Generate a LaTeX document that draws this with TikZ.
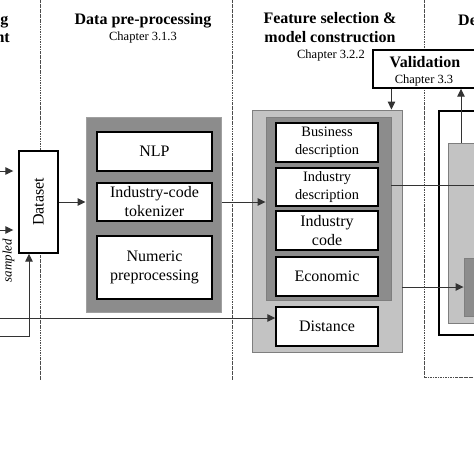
\documentclass[tikz,border=0pt]{standalone}
\usepackage{fontspec}
\setmainfont{Liberation Serif}
\usetikzlibrary{arrows.meta,calc}
\definecolor{lightg}{HTML}{C3C3C3}
\definecolor{darkg}{HTML}{8C8C8C}
\definecolor{edgeg}{HTML}{7E7E7E}
\definecolor{prepedge}{HTML}{A0A0A0}
\begin{document}
\begin{tikzpicture}[x=1pt,y=-1pt,
  divider/.style={draw=black!70, line width=0.6pt, dash pattern=on 2.5pt off 1pt on 0.6pt off 1pt},
  ln/.style={draw=black!80, line width=1pt},
  arr/.style={draw=black!80, line width=1pt, -{Triangle[length=8pt,width=7.5pt]}},
  wbox/.style={draw=black, line width=1.4pt, fill=white, inner sep=0pt, align=center, font=\fontsize{16}{19}\selectfont},
  sbox/.style={wbox, font=\fontsize{14.4}{18}\selectfont},
  head/.style={font=\fontsize{16}{19}\selectfont\bfseries, inner sep=0pt, anchor=base},
  chap/.style={font=\fontsize{12.5}{15}\selectfont, inner sep=0pt, anchor=base},
  lightbox/.style={fill=lightg, draw=edgeg, line width=0.9pt, inner sep=0pt},
  darkbox/.style={fill=darkg, draw=edgeg, line width=0.9pt, inner sep=0pt}
]
\useasboundingbox (0,0) rectangle (474,474);
\fill[white] (0,0) rectangle (474,474);
\clip (0,0) rectangle (474,474);

% dividers
\draw[divider] (40,0) -- (40,380);
\draw[divider] (232,0) -- (232,380);
\draw[divider] (424,0) -- (424,377) -- (480,377);

% headings
\node[head, anchor=base east] (hleft1) at (8.5,24) {g};
\node[head, anchor=base east] (hleft2) at (10,42.5) {nt};
\node[head] (hprep) at (143,24.5) {Data pre-processing};
\node[chap] (cprep) at (143,40) {Chapter 3.1.3};
\node[head] (hfeat1) at (330,23.5) {Feature selection \&};
\node[head] (hfeat2) at (330,42.5) {model construction};
\node[chap] (cfeat) at (331,58.5) {Chapter 3.2.2};
\node[head, anchor=base west] (hright) at (458,25) {De};

% validation
\node[draw=black, line width=1.4pt, fill=white, minimum width=103pt, minimum height=38pt, inner sep=0pt] (valid) at (424.5,69) {};
\node[head] (hvalid) at (425,67) {Validation};
\node[chap] (cvalid) at (424,83) {Chapter 3.3};

% dataset
\node[wbox, minimum width=39pt, minimum height=102pt] (dataset) at (38.5,202) {};
\node[rotate=90, inner sep=0pt, font=\fontsize{16}{19}\selectfont] (datasetlbl) at (dataset.center) {Dataset};
\node[rotate=90, inner sep=0pt, font=\fontsize{13}{15}\selectfont\itshape] (sampled) at (8.5,260.5) {sampled};

% pre-processing
\node[fill=darkg, draw=prepedge, line width=1pt, minimum width=135pt, minimum height=195pt, inner sep=0pt] (prep) at (153.5,214.5) {};
\node[wbox, minimum width=115pt, minimum height=39pt] (nlp) at (154.5,151.5) {NLP};
\node[wbox, minimum width=115pt, minimum height=38pt] (tok) at (154.5,202) {Industry-code\\tokenizer};
\node[wbox, minimum width=115pt, minimum height=63pt] (num) at (154.5,267.5) {Numeric\\preprocessing};

% feature selection
\node[lightbox, minimum width=150pt, minimum height=242pt] (fouter) at (327,231) {};
\node[darkbox, minimum width=125pt, minimum height=183pt] (finner) at (328.5,208.5) {};
\node[sbox, minimum width=102pt, minimum height=39pt] (bus) at (327,142.5) {Business\\description};
\node[sbox, minimum width=102pt, minimum height=38pt] (inddesc) at (327,187) {Industry\\description};
\node[wbox, minimum width=102pt, minimum height=39pt] (indcode) at (327,230.5) {Industry\\code};
\node[wbox, minimum width=102pt, minimum height=39pt] (econ) at (327,276.5) {Economic};
\node[wbox, minimum width=102pt, minimum height=39pt] (dist) at (327,326.5) {Distance};

% right section
\node[draw=black, line width=1.4pt, fill=white, minimum width=43pt, minimum height=224pt, inner sep=0pt] (rblack) at (460.5,223) {};
\node[lightbox, minimum width=34pt, minimum height=180pt] (rlight) at (465,233) {};
\node[darkbox, minimum width=18pt, minimum height=58pt] (rdark) at (473,287) {};

% connectors
\coordinate (in1) at (0,171);
\coordinate (in2) at (0,230);
\coordinate (in3) at (0,336);
\coordinate (in4) at (0,318);
\coordinate (out1) at (480,185);
\coordinate (upx) at (461,0);

\draw[arr, shorten >=5pt] (in1) -- (in1 -| dataset.west);
\draw[arr, shorten >=5pt] (in2) -- (in2 -| dataset.west);
\draw[arr] (in3) -| ([xshift=-9.5pt]dataset.south);
\draw[arr] (in4) -- (in4 -| dist.west);
\draw[arr] (dataset.east) -- (dataset.east -| prep.west);
\draw[arr] (dataset.east -| prep.east) -- (dataset.east -| finner.west);
\draw[ln] (finner.east |- out1) -- (out1);
\draw[arr] (fouter.east |- rdark.west) -- (rdark.west);
\draw[arr] (valid.south -| finner.east) -- (fouter.north -| finner.east);
\draw[arr] (rlight.north -| upx) -- (valid.south -| upx);
\end{tikzpicture}
\end{document}
